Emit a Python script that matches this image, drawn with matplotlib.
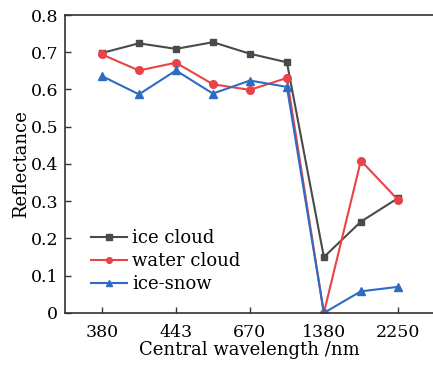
import matplotlib
matplotlib.use("Agg")
import matplotlib.pyplot as plt

tick_labels = ["380", "443", "670", "1380", "2250"]
ice_cloud = [0.698, 0.724, 0.709, 0.727, 0.696, 0.673, 0.150, 0.245, 0.308]
water_cloud = [0.694, 0.651, 0.672, 0.614, 0.599, 0.631, 0.0, 0.409, 0.304]
ice_snow = [0.636, 0.587, 0.651, 0.589, 0.624, 0.607, 0.0, 0.058, 0.070]

plt.rcParams['font.family'] = ['DejaVu Serif']
fig = plt.figure(figsize=(4.33, 3.66), dpi=100)
ax = fig.add_axes([0.150, 0.145, 0.85, 0.814])
x = list(range(len(ice_cloud)))
ax.plot(x, ice_cloud, color="#4a4a4a", marker="s", ms=5, lw=1.5, label="ice cloud")
ax.plot(x, water_cloud, color="#e84346", marker="o", ms=5.5, lw=1.5, label="water cloud")
ax.plot(x, ice_snow, color="#2e6cc4", marker="^", ms=6, lw=1.5, label="ice-snow")

ax.set_xlim(-1, 8.95)
ax.set_ylim(0, 0.8)
ax.set_xticks(x[::2])
ax.set_xticklabels(tick_labels)
ax.set_yticks([0, 0.1, 0.2, 0.3, 0.4, 0.5, 0.6, 0.7, 0.8])
ax.set_yticklabels(["0", "0.1", "0.2", "0.3", "0.4", "0.5", "0.6", "0.7", "0.8"])
ax.tick_params(direction="in", labelsize=12.5, length=4, width=1, colors="#333333", labelcolor="black")
ax.tick_params(axis="x", pad=8)
ax.tick_params(axis="y", pad=5)
ax.spines['right'].set_visible(False)
for s in ['left', 'top', 'bottom']:
    ax.spines[s].set_linewidth(1.2)
    ax.spines[s].set_color("#333333")
ax.set_xlabel("Central wavelength /nm", fontsize=13, labelpad=0)
ax.set_ylabel("Reflectance", fontsize=13, labelpad=0)
leg = ax.legend(loc="lower left", bbox_to_anchor=(0.04, 0.03), frameon=False, fontsize=13,
                handlelength=2.0, handletextpad=0.3, labelspacing=0.28, borderaxespad=0.2,
                markerscale=0.75)
fig.savefig("out.png", dpi=100)
